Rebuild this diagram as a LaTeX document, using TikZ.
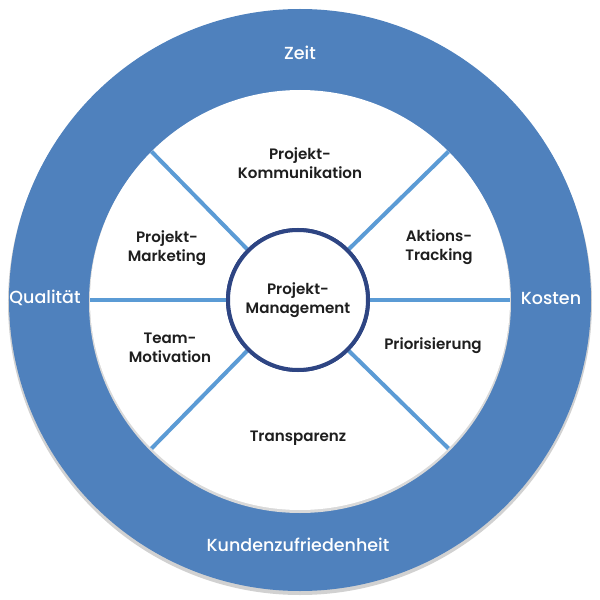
\documentclass[tikz,border=0pt]{standalone}
\usepackage{fontspec}
\setmainfont{Poppins}
\newfontfamily\popmedium{Poppins Medium}
\newfontfamily\popsemi{Poppins SemiBold}
\usetikzlibrary{positioning}
\definecolor{ringblue}{HTML}{4F81BD}
\definecolor{spokeblue}{HTML}{5B9BD5}
\definecolor{navy}{HTML}{2E4583}
\definecolor{labelgray}{HTML}{1E1E1E}
\tikzset{
  ringlabel/.style={text=white,font=\popmedium\fontsize{17.5}{20}\selectfont},
  fieldlabel/.style={text=labelgray,align=center,font=\popsemi\fontsize{15.1}{19}\selectfont},
  spoke/.style={draw=spokeblue,line width=4pt}
}
\begin{document}
\begin{tikzpicture}[x=1pt,y=1pt]
\useasboundingbox (-300,-300) rectangle (300,300);
% ring and field
\fill[black!18] (0,-3) circle(292);
\fill[ringblue] (0,0) circle(291);
\fill[black!15] (0,-2) circle(211);
\fill[white] (0,0) circle(210);
% spokes
\foreach \a in {0,45,135,180,225,315}
  \coordinate (s\a) at (\a:210);
\node[circle,draw=navy,line width=4pt,fill=white,minimum size=140pt,inner sep=0pt] (pm) at (-2,0) {};
\foreach \a in {0,45,135,180,225,315}
  \draw[spoke] (pm.\a) -- (s\a);
\node[circle,draw=navy,line width=4pt,fill=white,minimum size=140pt,inner sep=0pt,
  fieldlabel] at (pm) {Projekt-\\Management};
% ring labels
\node[ringlabel] (zeit) at (0,247) {Zeit};
\node[ringlabel] (kosten) at (251,2) {Kosten};
\node[ringlabel] (qual) at (-255,2) {Qualität};
\node[ringlabel] (kunde) at (-2,-245) {Kundenzufriedenheit};
% field labels
\node[fieldlabel] (komm) at (0,137) {Projekt-\\Kommunikation};
\node[fieldlabel] (track) at (139,53) {Aktions-\\Tracking};
\node[fieldlabel] (mark) at (-133,52) {Projekt-\\Marketing};
\node[fieldlabel] (team) at (-130,-48) {Team-\\Motivation};
\node[fieldlabel] (prio) at (133,-46) {Priorisierung};
\node[fieldlabel] (trans) at (-2,-138) {Transparenz};
\end{tikzpicture}
\end{document}
